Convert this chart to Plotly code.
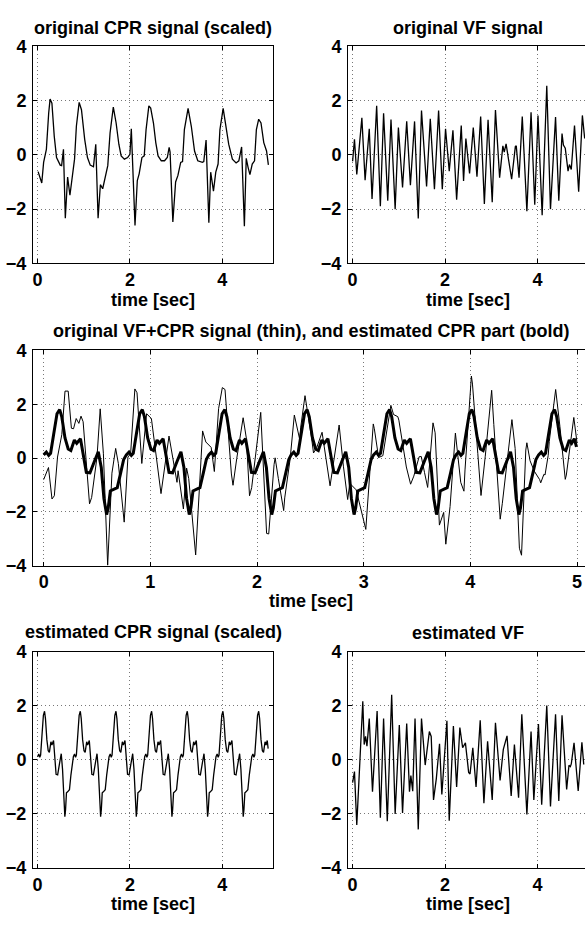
import plotly.graph_objects as go

# ---------------- data ----------------
CPR_T = [0.01, 0.09, 0.13, 0.19, 0.24, 0.27, 0.31, 0.36, 0.41, 0.49, 0.52, 0.56, 0.60, 0.65, 0.70, 0.76,
         0.80, 0.84, 0.90, 0.95, 1.02, 1.08, 1.14, 1.21, 1.26, 1.31, 1.36, 1.41, 1.47, 1.52, 1.57, 1.64,
         1.70, 1.76, 1.81, 1.88, 1.95, 2.00, 2.03, 2.11, 2.16, 2.20, 2.26, 2.31, 2.35, 2.41, 2.45, 2.51,
         2.56, 2.61, 2.68, 2.75, 2.81, 2.85, 2.87, 2.93, 2.99, 3.04, 3.10, 3.14, 3.18, 3.26, 3.33, 3.40,
         3.47, 3.57, 3.60, 3.65, 3.71, 3.75, 3.81, 3.86, 3.91, 3.95, 4.02, 4.07, 4.14, 4.22, 4.30, 4.36,
         4.42, 4.48, 4.52, 4.56, 4.60, 4.65, 4.70, 4.74, 4.79, 4.84, 4.90, 4.96, 5.00]
CPR_V = [-0.62, -1.04, -0.28, 0.20, 1.54, 2.05, 1.90, 0.69, -0.10, -0.38, -0.40, 0.20, -2.34, -0.82, -1.49, -0.76,
         -0.16, 1.05, 1.93, 1.66, 0.57, -0.10, -0.38, -0.44, 0.39, -2.34, -1.10, -1.25, -0.76, -0.40, 0.81, 1.76,
         1.18, 0.39, -0.04, -0.16, -0.10, 0.02, 0.96, -2.60, -0.95, -0.70, -0.10, -0.04, 0.93, 1.80, 1.72, 1.17,
         0.45, -0.04, -0.22, -0.22, -0.10, 0.27, 0.10, -2.47, -1.00, -0.76, -0.28, -0.25, 0.93, 1.71, 1.05, 0.14,
         -0.22, -0.28, -0.25, 0.54, -2.50, -0.64, -1.34, -0.64, -0.34, 0.93, 1.71, 1.17, 0.39, -0.16, -0.30, -0.22,
         0.29, -2.63, -0.13, -0.46, -0.73, -0.34, -0.22, 0.93, 1.31, 1.17, 0.45, 0.14, -0.37]

VF_T = [0.00, 0.04, 0.09, 0.20, 0.27, 0.31, 0.36, 0.42, 0.52, 0.60, 0.67, 0.76, 0.83, 0.92, 0.99, 1.08,
        1.17, 1.25, 1.34, 1.42, 1.49, 1.60, 1.68, 1.77, 1.86, 1.94, 2.01, 2.09, 2.17, 2.25, 2.35, 2.40,
        2.45, 2.53, 2.61, 2.69, 2.77, 2.85, 2.93, 3.02, 3.09, 3.18, 3.25, 3.28, 3.32, 3.44, 3.52, 3.54,
        3.60, 3.67, 3.77, 3.86, 3.94, 4.01, 4.10, 4.20, 4.28, 4.39, 4.46, 4.53, 4.56, 4.60, 4.66, 4.69,
        4.73, 4.80, 4.89, 4.97, 5.02]
VF_V = [-0.24, 0.57, -0.72, 1.36, -0.94, -0.20, 0.96, -1.63, 1.81, -1.89, 1.53, -1.69, 1.30, -2.00, 1.00, -1.20,
        1.23, -1.12, 1.23, -2.35, 1.63, -1.17, 1.33, -1.27, 1.63, -1.27, 0.96, -0.60, 0.90, -1.65, 1.08, -0.96,
        0.60, -0.69, 1.00, -0.81, 1.41, -1.81, 1.29, -1.75, 1.65, -0.84, 0.33, 0.10, 0.40, -0.90, 0.30, 0.33,
        -0.84, 1.41, -2.08, 1.57, -1.84, 1.45, -2.23, 2.54, -2.00, 1.39, -1.69, 0.78, 0.36, 0.24, -0.60, -0.36,
        -0.54, 1.08, -1.36, 1.45, 0.60]

MIX_T = [0.000, 0.045, 0.078, 0.100, 0.130, 0.170, 0.200, 0.230, 0.260, 0.280, 0.305, 0.330, 0.350, 0.370,
         0.430, 0.450, 0.500, 0.530, 0.560, 0.600, 0.640, 0.675, 0.700, 0.755, 0.790, 0.815, 0.855, 0.875,
         0.920, 0.965, 1.010, 1.040, 1.100, 1.175, 1.250, 1.260, 1.310, 1.340, 1.360, 1.425, 1.490, 1.520,
         1.570, 1.600, 1.640, 1.675, 1.700, 1.760, 1.775, 1.810, 1.870, 1.900, 1.930, 1.950, 2.000, 2.035,
         2.090, 2.110, 2.160, 2.170, 2.200, 2.250, 2.260, 2.310, 2.350, 2.400, 2.410, 2.450, 2.510, 2.530,
         2.560, 2.610, 2.685, 2.770, 2.810, 2.850, 2.870, 2.930, 3.020, 3.040, 3.090, 3.100, 3.140, 3.180,
         3.255, 3.280, 3.320, 3.330, 3.400, 3.440, 3.470, 3.520, 3.540, 3.570, 3.600, 3.650, 3.670, 3.710,
         3.750, 3.770, 3.810, 3.860, 3.910, 3.940, 3.950, 4.010, 4.020, 4.070, 4.100, 4.140, 4.200, 4.220,
         4.280, 4.300, 4.360, 4.390, 4.420, 4.460, 4.480, 4.520, 4.530, 4.560, 4.600, 4.650, 4.660, 4.690,
         4.700, 4.730, 4.740, 4.790, 4.800, 4.840, 4.890, 4.900, 4.960, 4.970, 5.000]
MIX_V = [-0.80, -0.35, -1.52, -1.40, 0.04, 0.87, 2.49, 2.49, 1.11, 1.09, 1.47, 1.29, 1.56, 1.35,
         -1.70, -1.46, 0.04, 1.83, 0.16, -3.98, -0.56, 0.36, -0.20, -2.38, 0.04, 0.16, 2.57, 2.43,
         -0.20, 1.65, 1.47, 0.50, -1.32, 0.82, -0.90, -0.47, -1.89, -0.37, -0.76, -3.60, 1.01, 0.60,
         0.40, -0.50, 1.84, 2.62, 2.55, -0.59, -1.01, -0.02, 1.50, 0.74, -1.40, -1.10, 0.66, 1.70,
         -2.80, -2.82, -0.24, 0.01, -0.76, -1.95, -1.48, -0.05, 1.60, 0.70, 1.15, 2.32, 0.80, 0.19,
         0.39, 0.96, -1.03, 1.23, -0.30, -1.54, -0.94, -1.18, -2.65, -1.54, 1.27, 1.09, 0.02, 0.09,
         1.96, 1.62, 1.54, 1.41, -0.33, -0.97, -0.67, 0.05, 0.06, -0.53, -1.09, 1.31, 0.94, -2.49,
         -2.02, -3.20, -1.80, 0.93, -0.90, -1.23, -0.44, 3.05, 2.75, 0.17, -1.39, 0.07, 2.52, 1.25,
         -2.27, -1.68, 0.25, 1.43, 0.36, -3.35, -3.61, 0.30, 0.57, -0.10, -0.49, -0.80, -0.92, -0.60,
         -0.63, 0.10, 0.62, 2.16, 2.55, 1.17, -0.79, -0.63, 1.24, 1.51, 0.57]

EST_CPR_T = [0.000, 0.025, 0.047, 0.065, 0.093, 0.125, 0.150, 0.170, 0.200, 0.230, 0.255, 0.288, 0.310, 0.345,
             0.400, 0.434, 0.477, 0.512, 0.540, 0.565, 0.590, 0.605, 0.625, 0.650, 0.690, 0.722, 0.750,
             0.775, 0.800, 0.822, 0.840, 0.868, 0.900, 0.925, 0.945, 0.975, 1.005, 1.030, 1.063, 1.085, 1.120,
             1.175, 1.209, 1.252, 1.287, 1.315, 1.340, 1.365, 1.380, 1.400, 1.425, 1.465, 1.497, 1.525,
             1.548, 1.573, 1.595, 1.613, 1.641, 1.673, 1.698, 1.718, 1.748, 1.778, 1.803, 1.836, 1.858, 1.893,
             1.948, 1.982, 2.025, 2.060, 2.088, 2.113, 2.138, 2.153, 2.173, 2.198, 2.238, 2.270, 2.298,
             2.320, 2.345, 2.367, 2.385, 2.413, 2.445, 2.470, 2.490, 2.520, 2.550, 2.575, 2.608, 2.630, 2.665,
             2.720, 2.754, 2.797, 2.832, 2.860, 2.885, 2.910, 2.925, 2.945, 2.970, 3.010, 3.042, 3.070,
             3.093, 3.118, 3.140, 3.158, 3.186, 3.218, 3.243, 3.263, 3.293, 3.323, 3.348, 3.381, 3.403, 3.438,
             3.493, 3.527, 3.570, 3.605, 3.633, 3.658, 3.683, 3.698, 3.718, 3.743, 3.783, 3.815, 3.843,
             3.865, 3.890, 3.912, 3.930, 3.958, 3.990, 4.015, 4.035, 4.065, 4.095, 4.120, 4.153, 4.175, 4.210,
             4.265, 4.299, 4.342, 4.377, 4.405, 4.430, 4.455, 4.470, 4.490, 4.515, 4.555, 4.587, 4.615,
             4.640, 4.665, 4.687, 4.705, 4.733, 4.765, 4.790, 4.810, 4.840, 4.870, 4.895, 4.928, 4.950, 4.975,
             4.995]
EST_CPR_V = [0.12, 0.22, 0.10, 0.18, 0.87, 1.65, 1.80, 1.53, 0.75, 0.34, 0.28, 0.67, 0.55, 0.72,
             -0.53, -0.55, -0.11, 0.23, -0.35, -1.50, -2.10, -1.85, -1.22, -1.18, -1.10, -0.55, -0.05,
             0.12, 0.22, 0.10, 0.18, 0.87, 1.65, 1.80, 1.53, 0.75, 0.34, 0.28, 0.67, 0.55, 0.72,
             -0.53, -0.55, -0.11, 0.23, -0.35, -1.50, -2.10, -1.85, -1.22, -1.18, -1.10, -0.55, -0.05,
             0.12, 0.22, 0.10, 0.18, 0.87, 1.65, 1.80, 1.53, 0.75, 0.34, 0.28, 0.67, 0.55, 0.72,
             -0.53, -0.55, -0.11, 0.23, -0.35, -1.50, -2.10, -1.85, -1.22, -1.18, -1.10, -0.55, -0.05,
             0.12, 0.22, 0.10, 0.18, 0.87, 1.65, 1.80, 1.53, 0.75, 0.34, 0.28, 0.67, 0.55, 0.72,
             -0.53, -0.55, -0.11, 0.23, -0.35, -1.50, -2.10, -1.85, -1.22, -1.18, -1.10, -0.55, -0.05,
             0.12, 0.22, 0.10, 0.18, 0.87, 1.65, 1.80, 1.53, 0.75, 0.34, 0.28, 0.67, 0.55, 0.72,
             -0.53, -0.55, -0.11, 0.23, -0.35, -1.50, -2.10, -1.85, -1.22, -1.18, -1.10, -0.55, -0.05,
             0.12, 0.22, 0.10, 0.18, 0.87, 1.65, 1.80, 1.53, 0.75, 0.34, 0.28, 0.67, 0.55, 0.72,
             -0.53, -0.55, -0.11, 0.23, -0.35, -1.50, -2.10, -1.85, -1.22, -1.18, -1.10, -0.55, -0.05,
             0.12, 0.22, 0.10, 0.18, 0.87, 1.65, 1.80, 1.53, 0.75, 0.34, 0.28, 0.67, 0.55, 0.72,
             0.42]

EST_VF_T = [0.00, 0.04, 0.09, 0.22, 0.25, 0.28, 0.31, 0.36, 0.43, 0.53, 0.60, 0.67, 0.75, 0.845, 0.92, 1.01,
            1.08, 1.17, 1.23, 1.26, 1.30, 1.35, 1.42, 1.49, 1.57, 1.66, 1.70, 1.75, 1.81, 1.88, 1.93, 2.04,
            2.09, 2.18, 2.25, 2.32, 2.38, 2.44, 2.51, 2.54, 2.60, 2.67, 2.76, 2.84, 2.92, 3.02, 3.09, 3.19,
            3.26, 3.34, 3.43, 3.50, 3.59, 3.66, 3.77, 3.86, 3.92, 4.02, 4.09, 4.20, 4.28, 4.39, 4.46, 4.53,
            4.63, 4.68, 4.71, 4.73, 4.79, 4.88, 4.96, 5.00]
EST_VF_V = [-0.84, -0.43, -2.41, 2.17, 0.57, 0.87, 0.51, 1.53, -1.18, 1.81, -2.14, 1.53, -2.27, 2.41, -2.00, 1.29,
            -1.96, 1.35, -1.18, -0.58, -1.16, 1.53, -2.57, 1.53, -0.19, 1.05, 0.87, -1.48, -0.70, 0.60, -1.28, 1.45,
            -2.25, 1.25, -1.00, 1.20, 0.45, 0.63, -0.46, -0.52, 0.45, -1.00, 1.47, -1.60, 0.69, -1.48, 1.37, -0.76,
            0.39, 0.89, -1.33, 0.57, -1.40, 1.69, -2.02, 1.05, -1.48, 1.33, -1.66, 2.01, -1.72, 1.69, -1.52, 1.65,
            -1.09, -0.20, -0.25, -0.15, 0.63, -1.15, 0.65, -0.17]

TITLES = ["original CPR signal (scaled)", "original VF signal",
          "original VF+CPR signal (thin), and estimated CPR part (bold)",
          "estimated CPR signal (scaled)", "estimated VF"]
XLABEL = "time [sec]"
Y_TICKS = [-4, -2, 0, 2, 4]
X_TICKS_SMALL = [0, 2, 4]
X_TICKS_WIDE = [0, 1, 2, 3, 4, 5]

# ---------------- layout helpers ----------------
W, H = 585, 925
FONT = "Liberation Sans, Arial, Helvetica, sans-serif"
TXT = dict(family=FONT, size=18, color="black", weight="bold")

# panel boxes in pixels: (left, right, top, bottom), x range, x ticks, draw right border
PANELS = [
    ((33, 273, 37, 259), [-0.1, 5.1], X_TICKS_SMALL, True),
    ((348, 585, 37, 259), [-0.1, 5.027], X_TICKS_SMALL, False),
    ((33, 585, 348, 568), [-0.1, 5.075], X_TICKS_WIDE, False),
    ((33, 273, 656, 877), [-0.1, 5.1], X_TICKS_SMALL, True),
    ((348, 585, 656, 877), [-0.1, 5.027], X_TICKS_SMALL, False),
]
# title / xlabel centres in pixels (x centre, title y, xlabel y)
TEXTPOS = [(153, 18, 296), (468, 18, 296), (311, 328, 604), (153, 636, 914), (468, 637, 914)]

fig = go.Figure()

series = [
    (CPR_T, CPR_V, 1, 1.3),
    (VF_T, VF_V, 2, 1.3),
    (MIX_T, MIX_V, 3, 1.0),
    (EST_CPR_T, EST_CPR_V, 3, 3.0),
    (EST_CPR_T, EST_CPR_V, 4, 1.3),
    (EST_VF_T, EST_VF_V, 5, 1.3),
]
for t, v, k, w in series:
    sfx = "" if k == 1 else str(k)
    fig.add_trace(go.Scatter(x=t, y=v, mode="lines", xaxis="x" + sfx, yaxis="y" + sfx,
                             line=dict(color="black", width=w), hoverinfo="skip", showlegend=False,
                             cliponaxis=True))

layout = {}
GRID = dict(showgrid=True, gridcolor="#777777", gridwidth=1, griddash="1px,3px", zeroline=False,
            ticks="inside", ticklen=4, tickwidth=1, tickcolor="black",
            showline=True, linecolor="black", linewidth=1, tickfont=TXT)
for i, ((l, r, tp, bt), xr, xt, rborder) in enumerate(PANELS):
    k = i + 1
    sfx = "" if k == 1 else str(k)
    xd = [l / W, r / W]
    yd = [1 - bt / H, 1 - tp / H]
    layout["xaxis" + sfx] = dict(domain=xd, range=xr, tickvals=xt, anchor="y" + sfx,
                                 mirror="ticks", ticklabelstandoff=0, **GRID)
    layout["yaxis" + sfx] = dict(domain=yd, range=[-4, 4], tickvals=Y_TICKS, anchor="x" + sfx,
                                 mirror="ticks" if rborder else False, ticklabelstandoff=2, **GRID)

annotations = []
for (cx, ty, ly), title in zip(TEXTPOS, TITLES):
    annotations.append(dict(text=title, x=cx / W, y=1 - ty / H, xref="paper", yref="paper",
                            xanchor="center", yanchor="middle", showarrow=False, font=TXT))
    annotations.append(dict(text=XLABEL, x=cx / W, y=1 - ly / H, xref="paper", yref="paper",
                            xanchor="center", yanchor="middle", showarrow=False, font=TXT))

fig.update_layout(width=W, height=H, margin=dict(l=0, r=0, t=0, b=0, pad=0),
                  paper_bgcolor="white", plot_bgcolor="white", annotations=annotations,
                  font=TXT, **layout)

fig.write_html("out.html", config={"displayModeBar": False},
               post_script="document.body.style.margin='0';document.body.style.overflow='hidden';")
